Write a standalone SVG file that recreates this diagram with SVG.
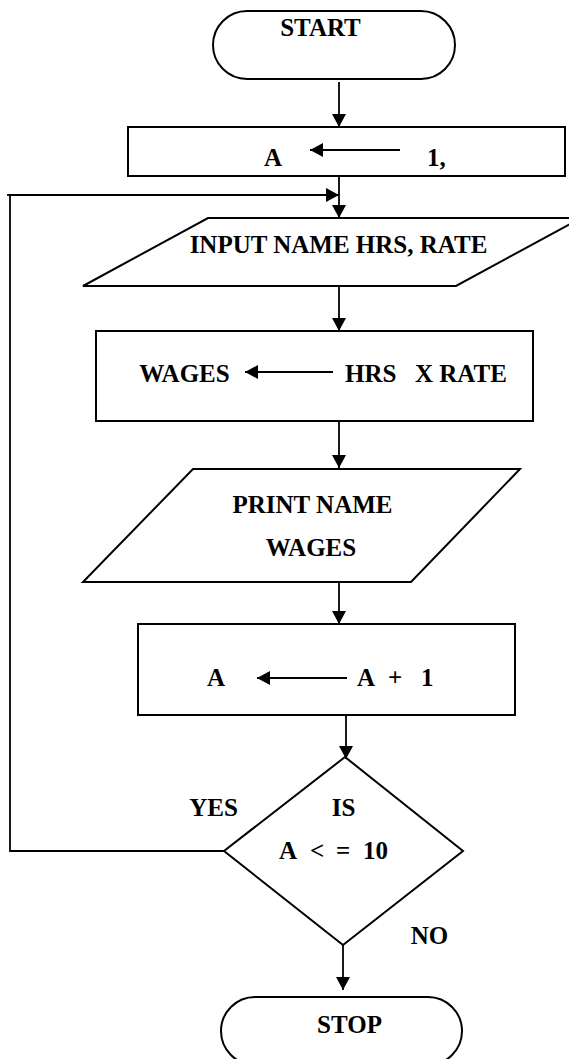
<svg xmlns="http://www.w3.org/2000/svg" width="569" height="1059" viewBox="0 0 569 1059">
<style>
.shape{fill:#fff;stroke:#000;stroke-width:2}
.conn{fill:none;stroke:#000;stroke-width:1.8}
text{font-family:"Liberation Serif","Times New Roman",serif;font-weight:bold;font-size:25px;fill:#000}
.c{text-anchor:middle}
</style>
<defs>
<marker id="ah" markerUnits="userSpaceOnUse" markerWidth="13" markerHeight="14" refX="13" refY="7" orient="auto">
<path d="M0,0 L13,7 L0,14 z" fill="#000"/>
</marker>
</defs>
<rect width="569" height="1059" fill="#fff"/>
<g id="start">
<rect class="shape" x="213" y="11" width="242" height="68" rx="34" ry="34"/>
<text class="c" x="320.5" y="36">START</text>
</g>
<g id="init">
<rect class="shape" x="128" y="127" width="437" height="49"/>
<text class="c" x="273" y="166">A</text>
<line class="conn" x1="400" y1="150" x2="310" y2="150" marker-end="url(#ah)"/>
<text x="427" y="166">1,</text>
</g>
<g id="input">
<polygon class="shape" points="208,218 581,218 456,286 83,286"/>
<text class="c" x="338.5" y="253">INPUT NAME HRS, RATE</text>
</g>
<g id="calc">
<rect class="shape" x="96" y="331" width="437" height="90"/>
<text class="c" x="184.5" y="382">WAGES</text>
<line class="conn" x1="333" y1="372" x2="245" y2="372" marker-end="url(#ah)"/>
<text y="382"><tspan x="345">HRS</tspan><tspan x="415">X RATE</tspan></text>
</g>
<g id="print">
<polygon class="shape" points="193,469 520,469 411,582 83,582"/>
<text class="c" x="312.5" y="513">PRINT NAME</text>
<text class="c" x="311" y="556">WAGES</text>
</g>
<g id="incr">
<rect class="shape" x="138" y="624" width="377" height="91"/>
<text class="c" x="216" y="686">A</text>
<line class="conn" x1="347" y1="678" x2="257" y2="678" marker-end="url(#ah)"/>
<text y="686"><tspan x="357">A</tspan><tspan x="388">+</tspan><tspan x="421">1</tspan></text>
</g>
<g id="decision">
<polygon class="shape" points="345,757 463,851 343,945 224,851"/>
<text class="c" x="343.5" y="816">IS</text>
<text y="859"><tspan x="279">A</tspan><tspan x="310">&lt;</tspan><tspan x="336">=</tspan><tspan x="363">10</tspan></text>
</g>
<g id="stop">
<rect class="shape" x="221" y="997" width="241" height="68" rx="34" ry="34"/>
<text class="c" x="349.5" y="1033">STOP</text>
</g>
<g id="connectors">
<line class="conn" x1="339" y1="82" x2="339" y2="127" marker-end="url(#ah)"/>
<line class="conn" x1="339" y1="176" x2="339" y2="218" marker-end="url(#ah)"/>
<polyline class="conn" points="224,851 10,851 10,195 339,195" marker-end="url(#ah)"/>
<line class="conn" x1="7" y1="195" x2="12" y2="195"/>
<line class="conn" x1="339" y1="286" x2="339" y2="331" marker-end="url(#ah)"/>
<line class="conn" x1="339" y1="421" x2="339" y2="468" marker-end="url(#ah)"/>
<line class="conn" x1="339" y1="582" x2="339" y2="624" marker-end="url(#ah)"/>
<line class="conn" x1="346" y1="716" x2="346" y2="759" marker-end="url(#ah)"/>
<line class="conn" x1="343" y1="945" x2="343" y2="990" marker-end="url(#ah)"/>
<text class="c" x="213.5" y="816">YES</text>
<text class="c" x="429.5" y="944">NO</text>
</g>
</svg>
